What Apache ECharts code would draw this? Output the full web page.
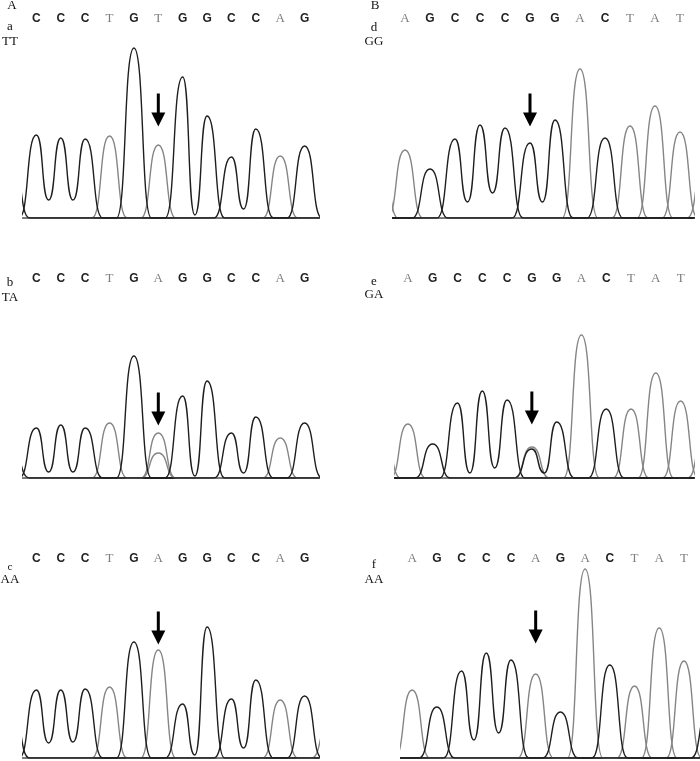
<!DOCTYPE html>
<html><head><meta charset="utf-8">
<script src="https://cdn.jsdelivr.net/npm/echarts@6/dist/echarts.min.js"></script>
<style>html,body{margin:0;padding:0;background:#fff}#c{width:700px;height:761px}</style>
</head><body><div id="c"></div>
<script>
// ---- data ----
const seqA = "CCCTGTGGCCAG";  // panel a (TT)
const seqB = "CCCTGAGGCCAG";  // panel b (TA)
const seqC = "CCCTGAGGCCAG";  // panel c (AA)
const seqD = "AGCCCGGACTAT";  // panel d (GG)
const seqE = "AGCCCGGACTAT";  // panel e (GA)
const seqF = "AGCCCAGACTAT";  // panel f (AA)

const peaksA = [83, 80, 79, 82, 170, 73, 141, 102, 61, 89, 62, 72];
const peaksB = [50, 53, 50, 55, 122, 45, 82, 97, 45, 61, 40, 55];
const peaksC = [68, 68, 69, 71, 116, 108, 54, 131, 59, 78, 58, 62];
const peaksD = [68, 49, 79, 93, 90, 75, 98, 149, 80, 92, 112, 86];
const peaksE = [54, 34, 75, 87, 78, 29, 56, 143, 69, 69, 105, 77];
const peaksF = [68, 51, 87, 105, 98, 84, 46, 189, 93, 72, 130, 97];

// trough heights between neighbouring peaks of the same base
const troughsA = [18, 18, 0, 0, 0, 0, 3, 0, 9, 0, 0];
const troughsB = [6, 6, 0, 0, 0, 0, 2, 0, 5, 0, 0];
const troughsC = [15, 16, 0, 0, 0, 0, 3, 0, 10, 0, 0];
const troughsD = [0, 0, 16, 25, 0, 16, 0, 0, 0, 0, 0];
const troughsE = [0, 0, 5, 10, 0, 5, 0, 0, 0, 0, 0];
const troughsF = [0, 0, 18, 25, 0, 0, 0, 0, 0, 0, 0];

// secondary (heterozygous) peaks and partly visible edge peaks: [position, base, height]
const extraA = [[-1, "G", 60]];
const extraB = [[5, "T", 25], [-1, "G", 30]];
const extraC = [[-1, "G", 50], [12, "T", 35]];
const extraD = [[-1, "T", 80], [12, "A", 60]];
const extraE = [[5, "A", 31], [-1, "T", 45], [12, "A", 50]];
const extraF = [[12, "C", 50]];

const genotypes = ["TT", "TA", "AA", "GG", "GA", "AA"];
const panelLetters = ["a", "b", "c", "d", "e", "f"];
const arrowPos = [5, 5, 5, 5, 5, 5];
const arrowY = [108, 69, 130, 108, 70, 131];

// ---- layout ----
const panels = [
  {seq: seqA, peaks: peaksA, tr: troughsA, extra: extraA, grid: {left: 23, width: 295, top: 10}, xr: [-0.55, 11.55]},
  {seq: seqB, peaks: peaksB, tr: troughsB, extra: extraB, grid: {left: 23, width: 295, top: 270}, xr: [-0.55, 11.55]},
  {seq: seqC, peaks: peaksC, tr: troughsC, extra: extraC, grid: {left: 23, width: 295, top: 550}, xr: [-0.55, 11.55]},
  {seq: seqD, peaks: peaksD, tr: troughsD, extra: extraD, grid: {left: 393, width: 300, top: 10}, xr: [-0.48, 11.52]},
  {seq: seqE, peaks: peaksE, tr: troughsE, extra: extraE, grid: {left: 395, width: 298, top: 270}, xr: [-0.52, 11.5]},
  {seq: seqF, peaks: peaksF, tr: troughsF, extra: extraF, grid: {left: 401, width: 299, top: 550}, xr: [-0.45, 11.65]}
];
const GRID_H = 208;
const LETTER_Y = 199;
const DARK = "#1e1e1e", GRAY = "#858585";
const chColor = {A: GRAY, T: GRAY, C: DARK, G: DARK};

function channelPoints(p, ch) {
  const W = 0.72;
  const list = [];
  for (let i = 0; i < p.seq.length; i++) if (p.seq[i] === ch) list.push([i, p.peaks[i], true]);
  p.extra.forEach(e => { if (e[1] === ch) list.push([e[0], e[2], false]); });
  list.sort((a, b) => a[0] - b[0]);
  const pts = [[p.xr[0] - 2, 0]];
  for (let k = 0; k < list.length; k++) {
    const [i, v, prim] = list[k];
    const prev = list[k - 1], next = list[k + 1];
    const joinedPrev = prev && prev[0] === i - 1 && prev[2] && prim;
    const joinedNext = next && next[0] === i + 1 && next[2] && prim;
    if (!joinedPrev) pts.push([i - W, 0]);
    pts.push([i, v]);
    if (joinedNext) pts.push([i + 0.5, p.tr[i]]);
    else pts.push([i + W, 0]);
  }
  pts.push([p.xr[1] + 2, 0]);
  return pts;
}

const grids = [], xAxes = [], yAxes = [], series = [];
panels.forEach((p, idx) => {
  grids.push({left: p.grid.left, width: p.grid.width, top: p.grid.top, height: GRID_H});
  xAxes.push({type: "value", gridIndex: idx, min: p.xr[0], max: p.xr[1], show: true,
    axisLine: {show: true, onZero: false, lineStyle: {color: "#2a2a2a", width: 2}},
    axisTick: {show: false}, axisLabel: {show: false}, splitLine: {show: false}});
  yAxes.push({type: "value", gridIndex: idx, min: 0, max: GRID_H, show: false, splitLine: {show: false}});
  ["A", "T", "C", "G"].forEach(ch => {
    series.push({type: "line", xAxisIndex: idx, yAxisIndex: idx, data: channelPoints(p, ch),
      smooth: 0.6, smoothMonotone: "x", symbol: "none", clip: true, silent: true,
      lineStyle: {color: chColor[ch], width: 1.4}, z: ch === "A" || ch === "T" ? 2 : 3});
  });
  series.push({type: "scatter", xAxisIndex: idx, yAxisIndex: idx, symbolSize: 2, silent: true,
    itemStyle: {color: "rgba(0,0,0,0)", opacity: 1},
    data: p.seq.split("").map((b, i) => {
      const dark = b === "C" || b === "G";
      return {value: [i, LETTER_Y], label: {show: true, position: "inside", formatter: b,
        fontFamily: dark ? "Liberation Sans" : "Liberation Serif", fontWeight: dark ? "bold" : "normal",
        fontSize: dark ? 12 : 13, color: dark ? "#222" : "#7d7d7d"}};
    })});
  series.push({type: "scatter", xAxisIndex: idx, yAxisIndex: idx, silent: true,
    symbol: "path://M5.5,0 L8.5,0 L8.5,19 L14,19 L7,33 L0,19 L5.5,19 Z",
    symbolSize: [14, 33], itemStyle: {color: "#000", opacity: 1}, z: 5,
    data: [[arrowPos[idx], arrowY[idx]]]});
});

const txt = (t, x, y, size) => ({type: "text", x: x, y: y, style: {text: t, fill: "#111",
  font: (size || 13) + "px 'Liberation Serif'", textAlign: "center", textVerticalAlign: "middle"}});
const graphics = [
  txt("A", 12, 6), txt(panelLetters[0], 10, 27), txt(genotypes[0], 10, 42),
  txt("B", 375, 6), txt(panelLetters[3], 374, 28), txt(genotypes[3], 374, 42),
  txt(panelLetters[1], 10, 283), txt(genotypes[1], 10, 298),
  txt(panelLetters[4], 374, 282), txt(genotypes[4], 374, 295),
  txt(panelLetters[2], 10, 567, 11), txt(genotypes[2], 10, 580),
  txt(panelLetters[5], 374, 565), txt(genotypes[5], 374, 580)
];

const chart = echarts.init(document.getElementById("c"), null, {renderer: "canvas"});
chart.setOption({animation: false, backgroundColor: "#fff", grid: grids, xAxis: xAxes, yAxis: yAxes,
  series: series, graphic: graphics});
</script></body></html>
